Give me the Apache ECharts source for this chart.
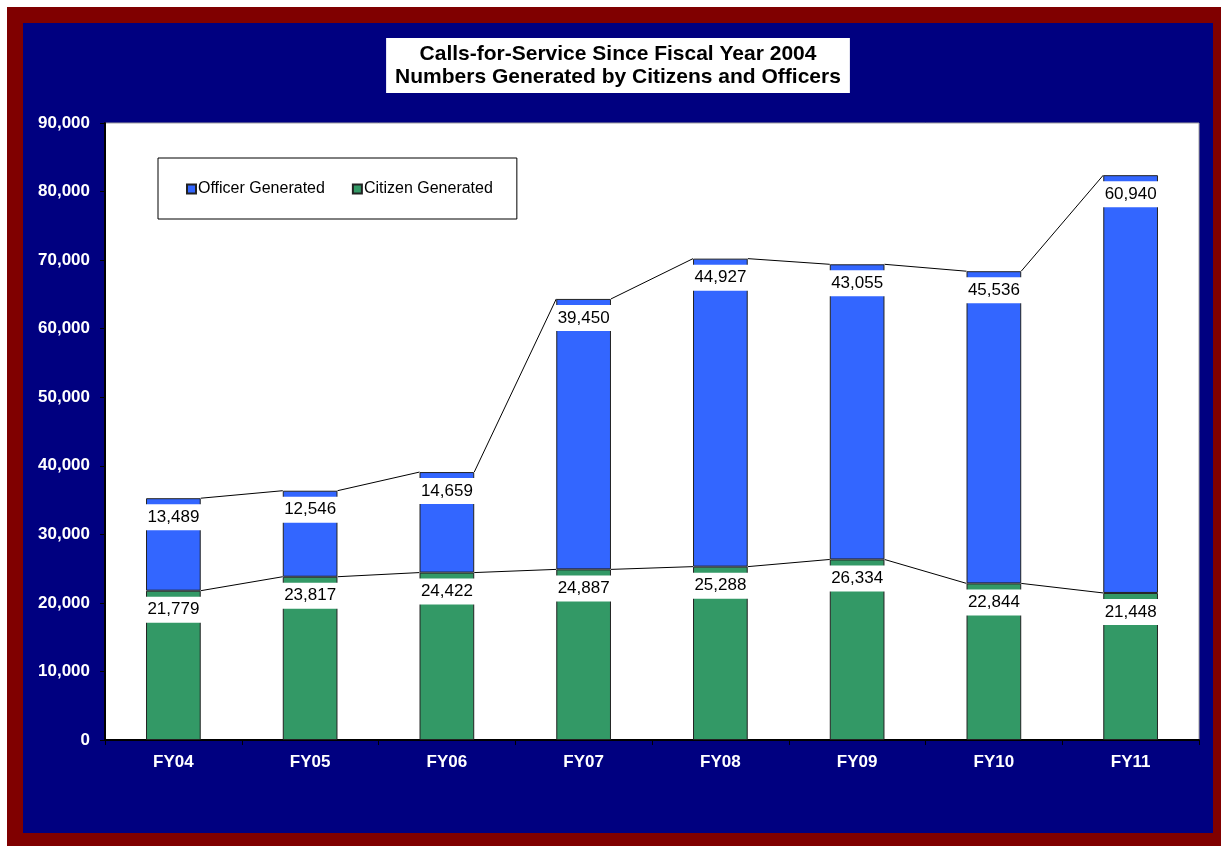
<!DOCTYPE html>
<html>
<head>
<meta charset="utf-8">
<script src="https://cdn.jsdelivr.net/npm/echarts@6/dist/echarts.min.js"></script>
<style>
  html, body { margin: 0; padding: 0; background: #ffffff; }
  #frame { position: absolute; left: 7px; top: 7px; width: 1214px; height: 839px; background: #800000; }
  #chart { position: absolute; left: 23px; top: 23px; width: 1190px; height: 810px; }
</style>
</head>
<body>
<div id="frame"></div>
<div id="chart"></div>
<script>
const categories = ['FY04', 'FY05', 'FY06', 'FY07', 'FY08', 'FY09', 'FY10', 'FY11'];
const citizenGenerated = [21779, 23817, 24422, 24887, 25288, 26334, 22844, 21448];
const officerGenerated = [13489, 12546, 14659, 39450, 44927, 43055, 45536, 60940];
const yTicks = { min: 0, max: 90000, interval: 10000 };

const totals = citizenGenerated.map((v, i) => v + officerGenerated[i]);
function connectors(levels) {
  const out = [];
  for (let i = 0; i < levels.length - 1; i++) out.push([i, levels[i], levels[i + 1]]);
  return out;
}
const BAR_RATIO = 0.4;
function renderConnector(params, api) {
  const i = api.value(0);
  const p1 = api.coord([i, api.value(1)]);
  const p2 = api.coord([i + 1, api.value(2)]);
  const hw = api.size([1, 0])[0] * BAR_RATIO / 2;
  return {
    type: 'line',
    shape: { x1: p1[0] + hw, y1: p1[1], x2: p2[0] - hw, y2: p2[1] },
    style: { stroke: '#000', lineWidth: 1 }
  };
}
const fmt = v => Number(v).toLocaleString('en-US');
const FONT = 'Arial, "Liberation Sans", sans-serif';
const labelStyle = {
  show: true,
  position: 'insideTop',
  distance: 6,
  formatter: p => fmt(p.value),
  color: '#000',
  fontSize: 17,
  lineHeight: 20,
  fontFamily: FONT,
  backgroundColor: '#ffffff',
  padding: [3, 4]
};

const chart = echarts.init(document.getElementById('chart'));
chart.setOption({
  backgroundColor: '#000080',
  animation: false,
  title: {
    text: 'Calls-for-Service Since Fiscal Year 2004\nNumbers Generated by Citizens and Officers',
    left: 'center',
    top: 15,
    backgroundColor: '#ffffff',
    padding: [5, 9, 4, 9],
    textStyle: { color: '#000', fontSize: 21, fontWeight: 'bold', lineHeight: 23, fontFamily: FONT }
  },
  legend: {
    data: ['Officer Generated', 'Citizen Generated'],
    left: 135,
    top: 135,
    orient: 'horizontal',
    backgroundColor: '#ffffff',
    borderColor: '#000',
    borderWidth: 1,
    padding: [23, 24, 22, 28],
    itemWidth: 9,
    itemHeight: 9,
    itemGap: 27,
    icon: 'rect',
    textStyle: { color: '#000', fontSize: 16, fontFamily: FONT, padding: [0, 0, 0, -3] }
  },
  grid: {
    left: 82, right: 14, top: 100, bottom: 93,
    show: true, backgroundColor: '#ffffff', borderColor: '#a0a0a0', borderWidth: 1
  },
  xAxis: {
    type: 'category',
    data: categories,
    axisLine: { lineStyle: { color: '#000', width: 2 } },
    axisTick: { show: true, length: 5, lineStyle: { color: '#000' } },
    axisLabel: { color: '#fff', fontWeight: 'bold', fontSize: 17, fontFamily: FONT, margin: 14 }
  },
  yAxis: {
    type: 'value',
    min: yTicks.min, max: yTicks.max, interval: yTicks.interval,
    axisLine: { show: true, lineStyle: { color: '#000', width: 2 } },
    axisTick: { show: true, length: 5, lineStyle: { color: '#000' } },
    splitLine: { show: false },
    axisLabel: { color: '#fff', fontWeight: 'bold', fontSize: 17, fontFamily: FONT, margin: 15, padding: [3, 0, 0, 0], formatter: v => fmt(v) }
  },
  series: [
    {
      name: 'Citizen Generated', type: 'bar', stack: 'calls', barWidth: '40%',
      data: citizenGenerated,
      itemStyle: { color: '#339966', borderColor: '#222', borderWidth: 1 },
      label: labelStyle
    },
    {
      name: 'Officer Generated', type: 'bar', stack: 'calls', barWidth: '40%',
      data: officerGenerated,
      itemStyle: { color: '#3366FF', borderColor: '#222', borderWidth: 1 },
      label: labelStyle
    },
    {
      name: 'citizenLine', type: 'custom', renderItem: renderConnector,
      data: connectors(citizenGenerated), encode: { x: 0, y: [1, 2] }, silent: true, z: 5
    },
    {
      name: 'totalLine', type: 'custom', renderItem: renderConnector,
      data: connectors(totals), encode: { x: 0, y: [1, 2] }, silent: true, z: 5
    }
  ]
});
</script>
</body>
</html>
